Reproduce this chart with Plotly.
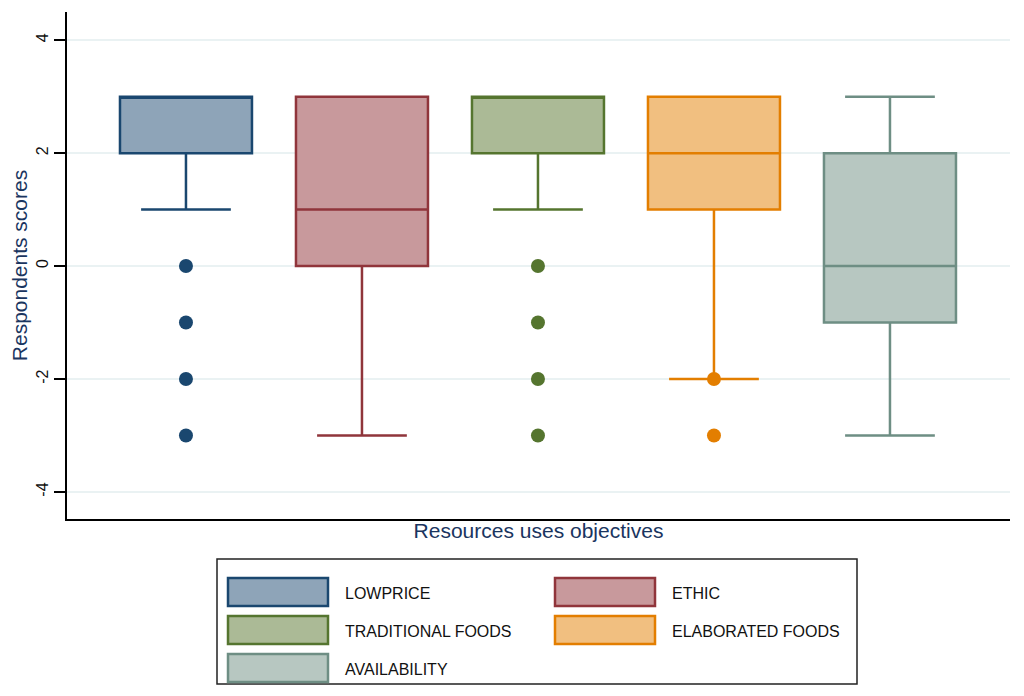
import plotly.graph_objects as go

# ---- data ----
categories = ["LOWPRICE", "ETHIC", "TRADITIONAL FOODS", "ELABORATED FOODS", "AVAILABILITY"]
positions = [1, 2, 3, 4, 5]
q1 = [2, 0, 2, 1, -1]
median = [3, 1, 3, 2, 0]
q3 = [3, 3, 3, 3, 2]
lower_fence = [1, -3, 1, -2, -3]
upper_fence = [3, 3, 3, 3, 3]
outliers = [[0, -1, -2, -3], [], [0, -1, -2, -3], [-2, -3], []]
y_ticks = [-4, -2, 0, 2, 4]
y_tick_labels = ["-4", "-2", "0", "2", "4"]

line_colors = ["#1a476f", "#90353b", "#55752f", "#e37e00", "#6e8e84"]
fill_colors = ["#8ea4b8", "#c8999c", "#abba96", "#f1bf80", "#b7c7c1"]

# ---- geometry helpers (target pixels -> paper); page body has 8px margin ----
OFF = 8
W, H = 1024 - OFF, 696 - OFF
ML, MR, MT, MB = 67 - OFF, 14, 12 - OFF, 177
PW, PH = W - ML - MR, H - MT - MB


def px(x):
    return (x - OFF - ML) / PW


def py(y):
    return (H - MB - (y - OFF)) / PH


fig = go.Figure()

for i, name in enumerate(categories):
    fig.add_trace(go.Box(
        x=[positions[i]], q1=[q1[i]], median=[median[i]], q3=[q3[i]],
        lowerfence=[lower_fence[i]], upperfence=[upper_fence[i]],
        width=0.75, whiskerwidth=0.68,
        fillcolor=fill_colors[i], line=dict(color=line_colors[i], width=2.5),
        name=name, showlegend=False, hoverinfo="skip",
    ))
    if outliers[i]:
        fig.add_trace(go.Scatter(
            x=[positions[i]] * len(outliers[i]), y=outliers[i], mode="markers",
            marker=dict(color=line_colors[i], size=14),
            showlegend=False, hoverinfo="skip",
        ))

# ---- custom legend (layout decoration) ----
shapes = [dict(type="rect", xref="paper", yref="paper",
               x0=px(217), x1=px(857), y0=py(684), y1=py(559),
               line=dict(color="#222222", width=1.5), fillcolor="white", layer="below")]
annotations = []
col_x = [228, 555]
row_y = [578, 616, 654]
for i, name in enumerate(categories):
    c, r = i % 2, i // 2
    x0, y0 = col_x[c], row_y[r]
    shapes.append(dict(type="rect", xref="paper", yref="paper",
                       x0=px(x0), x1=px(x0 + 100), y0=py(y0 + 28), y1=py(y0),
                       line=dict(color=line_colors[i], width=2.5),
                       fillcolor=fill_colors[i]))
    annotations.append(dict(xref="paper", yref="paper", x=px(x0 + 115), y=py(y0 + 15),
                            text=name, showarrow=False, xanchor="left", yanchor="middle",
                            font=dict(family="Liberation Sans, Arial", size=16, color="#111111")))

fig.update_layout(
    width=W, height=H,
    margin=dict(l=ML, r=MR, t=MT, b=MB),
    paper_bgcolor="white", plot_bgcolor="white",
    boxmode="overlay",
    font=dict(family="Liberation Sans, Arial", size=16, color="#111111"),
    shapes=shapes, annotations=annotations,
    xaxis=dict(range=[0.324, 5.682], showticklabels=False, ticks="", showgrid=False,
               zeroline=False, showline=True, linecolor="black", linewidth=1.5,
               title=dict(text="Resources uses objectives", standoff=4,
                          font=dict(size=21, color="#1a3560"))),
    yaxis=dict(range=[-4.48, 4.5], tickvals=y_ticks, ticktext=y_tick_labels, tickangle=-90,
               ticks="outside", ticklen=11, tickwidth=1.5, tickcolor="black",
               showgrid=True, gridcolor="#eaf2f3", gridwidth=2, zeroline=False,
               showline=True, linecolor="black", linewidth=1.5,
               tickfont=dict(size=16, color="#111111"),
               title=dict(text="Respondents scores", standoff=4,
                          font=dict(size=21, color="#1a3560"))),
)

fig.write_html("out.html")
